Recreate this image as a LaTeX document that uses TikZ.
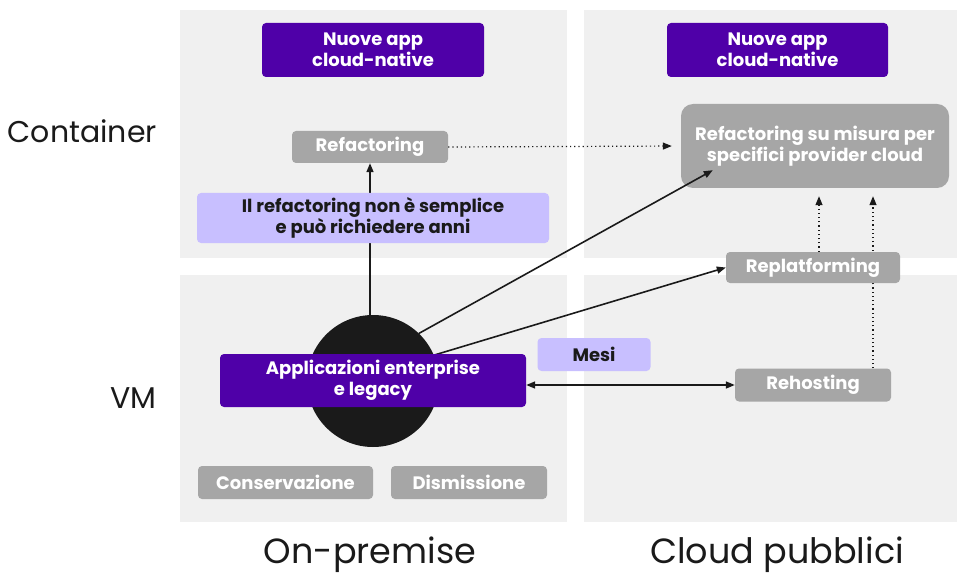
\documentclass[tikz,border=0pt]{standalone}
\usepackage{fontspec}
\setmainfont{Poppins}
\usetikzlibrary{arrows.meta,calc}
\pgfdeclarelayer{back}
\pgfdeclarelayer{mid}
\pgfsetlayers{back,mid,main}
\definecolor{panel}{HTML}{F0F0F0}
\definecolor{purp}{HTML}{4F00A8}
\definecolor{lpurp}{HTML}{C8BFFF}
\definecolor{gbox}{HTML}{A6A6A6}
\definecolor{ink}{HTML}{1A1A1A}
\tikzset{
  box/.style={inner sep=0pt,align=center,font=\fontsize{18}{21.5}\selectfont\bfseries,rounded corners=4pt},
  pbox/.style={box,fill=purp,text=white},
  gray box/.style={box,fill=gbox,text=white},
  lbox/.style={box,fill=lpurp,text=ink},
  lab/.style={inner sep=0pt,text=ink,font=\fontsize{30}{34}\selectfont},
  biglab/.style={inner sep=0pt,text=ink,font=\fontsize{35}{40}\selectfont},
  solidarrow/.style={line width=1.6pt,draw=ink,-{Triangle[length=9pt,width=7pt]}},
  dotarrow/.style={line width=1.2pt,draw=ink,dash pattern=on 1.2pt off 3pt,-{Triangle[length=9pt,width=7pt]}},
}
\begin{document}
\begin{tikzpicture}[x=1pt,y=-1pt]
\useasboundingbox (0,0) rectangle (957,577);
% panels
\begin{pgfonlayer}{back}
\fill[panel] (180,10) rectangle (567,258);
\fill[panel] (180,275) rectangle (567,522);
\fill[panel] (584,10) rectangle (957,258);
\fill[panel] (584,275) rectangle (957,522);
\end{pgfonlayer}
% labels
\node[lab,anchor=east] (lcont) at (157,131) {Container};
\node[lab,anchor=east] (lvm) at (157,398) {VM};
\node[biglab] (lonp) at (370,555) {On-premise};
\node[biglab] (lcloud) at (777,555) {Cloud pubblici};
% nodes
\node[pbox,minimum width=222pt,minimum height=54pt] (nuovoL) at (373,50) {Nuove app\\cloud-native};
\node[pbox,minimum width=221pt,minimum height=54pt] (nuovoR) at (777.5,50) {Nuove app\\cloud-native};
\node[gray box,minimum width=156pt,minimum height=32pt] (refL) at (370,147) {Refactoring};
\node[gray box,rounded corners=12pt,minimum width=268pt,minimum height=84pt] (refR) at (815,146) {Refactoring su misura per\\specifici provider cloud};
\node[gray box,minimum width=174pt,minimum height=31pt] (replat) at (813,267.5) {Replatforming};
\node[gray box,minimum width=156pt,minimum height=33pt] (rehost) at (813,385) {Rehosting};
\node[gray box,minimum width=175pt,minimum height=33pt] (cons) at (285.5,482.5) {Conservazione};
\node[gray box,minimum width=156pt,minimum height=33pt] (dism) at (469,482.5) {Dismissione};
\node[lbox,minimum width=113pt,minimum height=33pt] (mesi) at (594,354.5) {Mesi};
\node[lbox,minimum width=352pt,minimum height=50pt] (note) at (373,218) {Il refactoring non è semplice\\e può richiedere anni};
\node[circle,fill=ink,minimum size=132pt,inner sep=0pt] (circ) at (373,381) {};
\node[pbox,minimum width=306pt,minimum height=53pt] (app) at (373,380.5) {Applicazioni enterprise\\e legacy};
% connectors
\begin{pgfonlayer}{mid}
\draw[solidarrow] (refL.south |- circ.north) -- (refL.south);
\draw[solidarrow] (circ.23) -- (replat.west);
\coordinate (rhtop) at ($(rehost.north)+(60,0)$);
\coordinate (rptop) at ($(replat.north)+(6,0)$);
\draw[dotarrow,shorten >=8pt] (rhtop) -- (rhtop |- refR.south);
\draw[dotarrow,shorten >=8pt] (rptop) -- (rptop |- refR.south);
\draw[dotarrow,shorten >=9pt] (refL.east) -- (refR.west);
\draw[line width=1.6pt,draw=ink,{Triangle[length=9pt,width=7pt]}-{Triangle[length=9pt,width=7pt]}] (app.east |- rehost.west) -- (rehost.west);
\end{pgfonlayer}
\draw[solidarrow] (circ.46) -- ($(refR.south west)+(32,-18)$);
\end{tikzpicture}
\end{document}
